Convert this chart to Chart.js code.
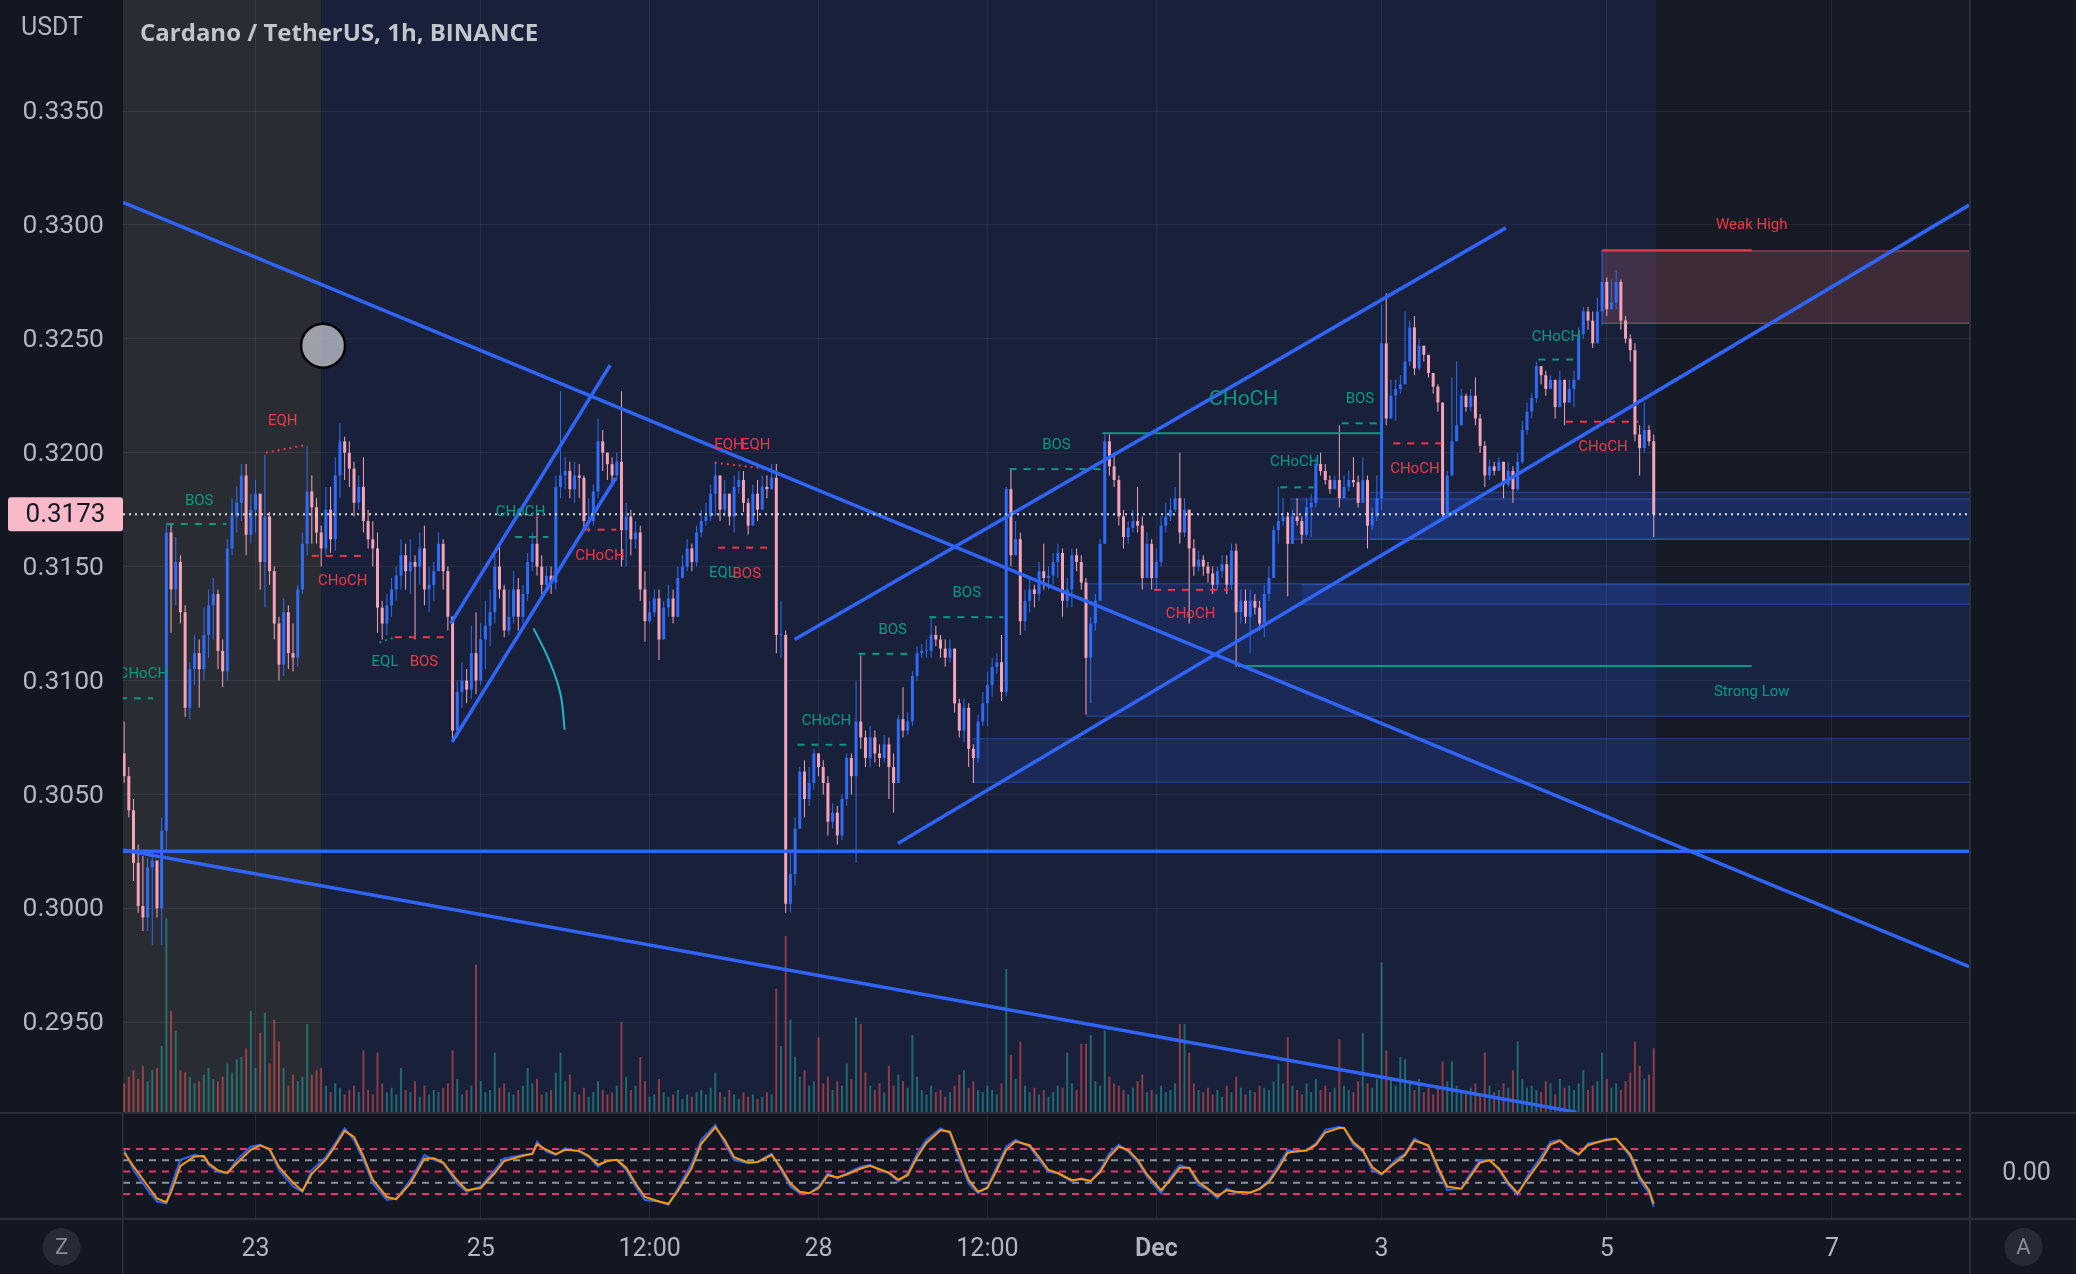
<!DOCTYPE html>
<html>
<head>
<meta charset="utf-8">
<title>Cardano / TetherUS, 1h, BINANCE</title>
<script src="https://cdn.jsdelivr.net/npm/chart.js@4.4.1/dist/chart.umd.min.js"></script>
<style>
html,body{margin:0;padding:0;background:#131722;overflow:hidden;}
#wrap{width:2076px;height:1274px;}
canvas{display:block;}
</style>
</head>
<body>
<div id="wrap"><canvas id="chart" width="2076" height="1274"></canvas></div>
<script>
// ================= DATA =================
// time unit: hours after 21 Nov 00:00; first hourly candle = 21 Nov 20:00
const FIRST_HOUR = 20;
const openP = [
.3068,.3058,.3043,.3020,.3001,.2996,.3018,.3021,.3000,.3034,
.3165,.3140,.3152,.3130,.3088,.3105,.3112,.3105,.3120,.3133,
.3138,.3113,.3104,.3158,.3172,.3178,.3190,.3164,.3175,.3182,
.3152,.3172,.3148,.3125,.3107,.3130,.3112,.3110,.3140,.3160,
.3183,.3176,.3165,.3158,.3175,.3162,.3190,.3205,.3200,.3193,
.3178,.3185,.3170,.3162,.3158,.3132,.3125,.3133,.3140,.3146,
.3155,.3148,.3152,.3150,.3158,.3140,.3142,.3148,.3160,.3148,
.3128,.3078,.3095,.3100,.3096,.3112,.3100,.3118,.3124,.3130,
.3150,.3140,.3122,.3128,.3140,.3128,.3138,.3152,.3160,.3150,
.3142,.3146,.3143,.3185,.3190,.3192,.3184,.3190,.3189,.3170,
.3170,.3183,.3205,.3200,.3195,.3190,.3196,.3166,.3172,.3162,
.3165,.3140,.3126,.3130,.3136,.3118,.3132,.3136,.3128,.3145,
.3150,.3158,.3152,.3165,.3170,.3172,.3182,.3190,.3175,.3182,
.3172,.3185,.3188,.3178,.3168,.3182,.3175,.3185,.3184,.3189,
.3120,.3120,.3002,.3015,.3035,.3060,.3048,.3055,.3068,.3062,
.3055,.3038,.3042,.3032,.3048,.3066,.3058,.3082,.3075,.3066,
.3075,.3068,.3066,.3072,.3062,.3055,.3083,.3078,.3082,.3102,
.3112,.3113,.3113,.3120,.3118,.3114,.3110,.3114,.3090,.3078,
.3088,.3070,.3066,.3082,.3090,.3098,.3106,.3108,.3095,.3184,
.3155,.3162,.3126,.3135,.3140,.3138,.3148,.3145,.3146,.3152,
.3156,.3135,.3140,.3155,.3152,.3143,.3110,.3125,.3135,.3160,
.3205,.3194,.3188,.3172,.3163,.3167,.3170,.3168,.3145,.3160,
.3145,.3152,.3168,.3172,.3175,.3180,.3165,.3175,.3158,.3150,
.3153,.3150,.3147,.3142,.3148,.3151,.3142,.3157,.3130,.3135,
.3128,.3135,.3132,.3125,.3138,.3145,.3166,.3170,.3172,.3160,
.3172,.3170,.3164,.3176,.3178,.3195,.3192,.3188,.3184,.3188,
.3180,.3185,.3188,.3187,.3178,.3188,.3168,.3172,.3180,.3248,
.3215,.3225,.3228,.3230,.3240,.3255,.3237,.3247,.3243,.3235,
.3229,.3222,.3173,.3190,.3205,.3212,.3225,.3220,.3225,.3215,
.3203,.3190,.3194,.3192,.3196,.3186,.3192,.3184,.3196,.3210,
.3218,.3224,.3238,.3234,.3228,.3232,.3220,.3232,.3222,.3228,
.3232,.3252,.3262,.3258,.3248,.3262,.3275,.3263,.3266,.3275,
.3258,.3250,.3245,.3208,.3202,.3210,.3205];
const highP = [
.3082,.3062,.3048,.3028,.3023,.3022,.3025,.3020,.3040,.3169,
.3169,.3163,.3155,.3133,.3108,.3120,.3118,.3132,.3140,.3145,
.3140,.3118,.3162,.3180,.3185,.3195,.3195,.3182,.3188,.3182,
.3199,.3174,.3150,.3128,.3136,.3133,.3125,.3142,.3165,.3203,
.3190,.3180,.3168,.3185,.3185,.3198,.3213,.3207,.3205,.3196,
.3190,.3198,.3175,.3170,.3165,.3135,.3138,.3145,.3150,.3162,
.3160,.3162,.3155,.3165,.3168,.3150,.3152,.3165,.3162,.3150,
.3128,.3100,.3108,.3105,.3124,.3130,.3125,.3135,.3140,.3155,
.3160,.3142,.3140,.3148,.3145,.3142,.3156,.3165,.3172,.3155,
.3150,.3150,.3190,.3227,.3198,.3196,.3196,.3195,.3190,.3180,
.3186,.3215,.3210,.3200,.3198,.3200,.3227,.3178,.3175,.3170,
.3168,.3148,.3135,.3140,.3140,.3135,.3142,.3140,.3150,.3155,
.3162,.3160,.3168,.3175,.3178,.3186,.3196,.3190,.3188,.3182,
.3190,.3192,.3192,.3180,.3186,.3188,.3190,.3190,.3195,.3195,
.3135,.3122,.3025,.3040,.3062,.3065,.3062,.3070,.3068,.3065,
.3058,.3046,.3045,.3050,.3068,.3068,.3100,.3111,.3078,.3080,
.3078,.3072,.3076,.3075,.3068,.3085,.3097,.3086,.3104,.3115,
.3116,.3118,.3128,.3124,.3120,.3118,.3118,.3114,.3092,.3092,
.3090,.3072,.3085,.3095,.3104,.3110,.3112,.3120,.3185,.3193,
.3170,.3165,.3140,.3145,.3142,.3152,.3160,.3150,.3156,.3160,
.3158,.3145,.3158,.3158,.3155,.3145,.3128,.3138,.3162,.3208,
.3208,.3200,.3190,.3175,.3170,.3175,.3185,.3172,.3165,.3162,
.3158,.3172,.3178,.3180,.3185,.3200,.3180,.3175,.3162,.3157,
.3155,.3152,.3150,.3150,.3155,.3155,.3160,.3160,.3140,.3140,
.3140,.3138,.3135,.3142,.3150,.3168,.3185,.3180,.3174,.3175,
.3180,.3172,.3180,.3182,.3198,.3200,.3195,.3190,.3190,.3212,
.3190,.3192,.3198,.3190,.3198,.3190,.3176,.3190,.3265,.3270,
.3232,.3232,.3234,.3262,.3258,.3260,.3250,.3246,.3242,.3235,
.3230,.3222,.3192,.3233,.3240,.3228,.3226,.3228,.3233,.3217,
.3205,.3197,.3196,.3198,.3196,.3196,.3194,.3200,.3214,.3222,
.3226,.3240,.3238,.3236,.3234,.3232,.3236,.3232,.3232,.3236,
.3255,.3264,.3264,.3262,.3268,.3289,.3277,.3276,.3280,.3276,
.3260,.3252,.3248,.3212,.3222,.3212,.3208];
const lowP = [
.3055,.3040,.3012,.2998,.2990,.2990,.2984,.2996,.2984,.3025,
.3121,.3133,.3125,.3084,.3083,.3098,.3088,.3100,.3110,.3118,
.3105,.3097,.3100,.3155,.3165,.3170,.3155,.3160,.3165,.3140,
.3132,.3142,.3118,.3100,.3102,.3105,.3104,.3106,.3138,.3155,
.3160,.3160,.3150,.3155,.3156,.3157,.3180,.3188,.3185,.3172,
.3175,.3165,.3158,.3150,.3121,.3118,.3120,.3128,.3135,.3140,
.3140,.3138,.3118,.3142,.3133,.3130,.3135,.3148,.3140,.3122,
.3074,.3075,.3088,.3090,.3092,.3094,.3098,.3105,.3115,.3125,
.3136,.3119,.3120,.3125,.3122,.3125,.3135,.3148,.3146,.3138,
.3140,.3138,.3140,.3180,.3184,.3180,.3178,.3180,.3165,.3165,
.3168,.3180,.3192,.3188,.3185,.3188,.3150,.3150,.3155,.3158,
.3135,.3117,.3125,.3128,.3109,.3120,.3128,.3125,.3128,.3145,
.3148,.3148,.3150,.3163,.3168,.3170,.3172,.3170,.3172,.3168,
.3165,.3182,.3174,.3164,.3168,.3170,.3180,.3180,.3184,.3112,
.3110,.2998,.2998,.3010,.3035,.3040,.3045,.3052,.3058,.3050,
.3032,.3035,.3028,.3030,.3045,.3050,.3020,.3070,.3062,.3062,
.3064,.3062,.3064,.3048,.3042,.3055,.3075,.3076,.3080,.3100,
.3110,.3110,.3110,.3115,.3110,.3106,.3108,.3086,.3075,.3073,
.3062,.3055,.3064,.3080,.3080,.3093,.3103,.3091,.3093,.3150,
.3155,.3120,.3122,.3130,.3132,.3135,.3140,.3140,.3142,.3145,
.3128,.3132,.3132,.3148,.3140,.3085,.3090,.3122,.3135,.3160,
.3190,.3185,.3168,.3158,.3160,.3165,.3165,.3140,.3145,.3140,
.3140,.3150,.3165,.3170,.3174,.3160,.3163,.3125,.3146,.3148,
.3146,.3143,.3138,.3140,.3145,.3138,.3140,.3106,.3125,.3125,
.3112,.3129,.3122,.3119,.3135,.3145,.3160,.3168,.3137,.3160,
.3168,.3160,.3163,.3163,.3176,.3190,.3186,.3182,.3184,.3176,
.3180,.3183,.3185,.3176,.3178,.3158,.3166,.3170,.3175,.3212,
.3215,.3214,.3226,.3234,.3238,.3234,.3236,.3240,.3233,.3226,
.3218,.3170,.3172,.3190,.3205,.3212,.3218,.3218,.3212,.3200,
.3185,.3188,.3190,.3192,.3180,.3185,.3178,.3183,.3195,.3208,
.3215,.3222,.3230,.3225,.3228,.3215,.3220,.3212,.3222,.3220,
.3232,.3250,.3254,.3246,.3248,.3256,.3260,.3263,.3263,.3254,
.3248,.3240,.3205,.3190,.3200,.3203,.3163];
const closeP = [
.3058,.3043,.3020,.3001,.2996,.3018,.3021,.3000,.3034,.3165,
.3140,.3152,.3130,.3088,.3105,.3112,.3105,.3120,.3133,.3138,
.3113,.3104,.3158,.3172,.3178,.3190,.3164,.3175,.3182,.3152,
.3172,.3148,.3125,.3107,.3130,.3112,.3110,.3140,.3160,.3183,
.3176,.3165,.3158,.3175,.3162,.3190,.3205,.3200,.3193,.3178,
.3185,.3170,.3162,.3158,.3132,.3125,.3133,.3140,.3146,.3155,
.3148,.3152,.3150,.3158,.3140,.3142,.3148,.3160,.3148,.3128,
.3078,.3095,.3100,.3096,.3112,.3100,.3118,.3124,.3130,.3150,
.3140,.3122,.3128,.3140,.3128,.3138,.3152,.3160,.3150,.3142,
.3146,.3143,.3185,.3190,.3192,.3184,.3190,.3189,.3170,.3170,
.3183,.3205,.3200,.3195,.3190,.3196,.3166,.3172,.3162,.3165,
.3140,.3126,.3130,.3136,.3118,.3132,.3136,.3128,.3145,.3150,
.3158,.3152,.3165,.3170,.3172,.3182,.3190,.3175,.3182,.3172,
.3185,.3188,.3178,.3168,.3182,.3175,.3185,.3184,.3189,.3120,
.3120,.3002,.3015,.3035,.3060,.3048,.3055,.3068,.3062,.3055,
.3038,.3042,.3032,.3048,.3066,.3058,.3082,.3075,.3066,.3075,
.3068,.3066,.3072,.3062,.3055,.3083,.3078,.3082,.3102,.3112,
.3113,.3113,.3120,.3118,.3114,.3110,.3114,.3090,.3078,.3088,
.3070,.3066,.3082,.3090,.3098,.3106,.3108,.3095,.3184,.3155,
.3162,.3126,.3135,.3140,.3138,.3148,.3145,.3146,.3152,.3156,
.3135,.3140,.3155,.3152,.3143,.3110,.3125,.3135,.3160,.3205,
.3194,.3188,.3172,.3163,.3167,.3170,.3168,.3145,.3160,.3145,
.3152,.3168,.3172,.3175,.3180,.3165,.3175,.3158,.3150,.3153,
.3150,.3147,.3142,.3148,.3151,.3142,.3157,.3130,.3135,.3128,
.3135,.3132,.3125,.3138,.3145,.3166,.3170,.3172,.3160,.3172,
.3170,.3164,.3176,.3178,.3195,.3192,.3188,.3184,.3188,.3180,
.3185,.3188,.3187,.3178,.3188,.3168,.3172,.3180,.3248,.3215,
.3225,.3228,.3230,.3240,.3255,.3237,.3247,.3243,.3235,.3229,
.3222,.3173,.3190,.3205,.3212,.3225,.3220,.3225,.3215,.3203,
.3190,.3194,.3192,.3196,.3186,.3192,.3184,.3196,.3210,.3218,
.3224,.3238,.3234,.3228,.3232,.3220,.3232,.3222,.3228,.3232,
.3252,.3262,.3258,.3248,.3262,.3275,.3263,.3266,.3275,.3258,
.3250,.3245,.3208,.3202,.3210,.3205,.3173];
// volume, millions ADA
const volumeM = [
1.3,1.6,1.9,1.5,2.1,1.4,1.9,2.0,3.0,8.8,
4.6,3.7,1.9,1.8,1.6,1.3,1.4,1.7,2.0,1.5,
1.4,1.6,2.2,1.8,2.4,2.5,2.9,4.6,2.0,3.6,
4.5,2.2,4.2,3.2,2.0,1.2,1.7,1.4,1.6,4.0,
1.7,1.9,2.0,1.2,0.9,1.3,1.1,0.8,1.0,1.2,
0.9,2.8,1.0,0.8,2.7,1.3,0.9,1.1,0.8,2.0,
1.0,0.9,1.4,0.7,1.2,0.8,1.0,0.9,1.1,1.3,
2.8,1.5,0.8,1.0,1.2,6.7,1.4,0.9,1.0,2.7,
1.1,1.3,0.9,0.8,1.0,1.2,2.0,1.3,1.5,0.8,
0.9,1.0,1.8,2.7,1.4,1.7,0.9,0.8,1.1,0.7,
0.9,1.4,1.0,0.8,0.9,1.2,4.1,1.6,1.0,1.2,
2.5,1.4,0.7,0.8,1.5,0.9,0.7,0.8,1.0,0.6,
0.8,0.7,0.9,1.0,0.8,1.1,1.8,0.9,0.7,1.0,
0.8,0.6,0.9,0.7,0.8,0.6,0.7,0.9,0.8,5.6,
3.0,8.0,4.2,2.5,1.6,1.9,1.2,1.4,3.4,1.3,
1.6,1.0,1.4,1.2,2.2,1.5,4.3,4.0,1.8,1.2,
1.0,1.3,0.9,2.1,1.2,1.7,1.4,1.1,3.5,1.6,
1.0,0.8,1.2,0.9,1.0,0.7,0.9,1.2,1.7,1.9,
1.1,1.4,1.0,0.9,1.2,1.0,0.8,1.3,6.5,2.6,
1.5,3.2,1.2,0.9,1.1,0.8,1.0,0.7,0.9,1.2,
1.1,2.7,1.3,1.0,3.1,3.1,3.5,1.4,1.2,3.7,
1.6,1.3,1.2,1.0,0.8,1.1,1.4,1.7,0.9,1.0,
0.8,1.2,0.9,1.0,1.3,4.0,4.0,2.7,1.3,1.0,
0.9,1.1,0.8,1.0,0.7,1.2,0.9,1.6,1.1,0.8,
1.0,0.9,1.2,1.1,1.0,1.4,2.2,1.3,3.4,1.2,
1.0,0.8,1.3,0.9,1.5,1.0,1.2,0.9,1.1,3.3,
1.2,1.0,0.9,1.4,3.6,1.3,1.1,1.5,6.8,2.8,
1.6,1.2,2.5,2.4,1.3,1.0,1.5,0.9,1.1,0.8,
1.2,2.3,1.4,2.3,1.2,1.0,0.9,1.1,1.3,0.8,
2.7,1.2,0.9,1.0,1.3,1.1,1.9,3.2,1.5,1.1,
1.2,1.0,0.9,1.4,1.3,0.8,1.5,1.1,1.2,1.0,
1.3,1.9,1.0,1.2,1.4,2.7,1.5,1.1,1.3,1.0,
1.4,1.8,3.2,2.1,1.5,1.7,2.9];

// oscillator pane
const oscHours = [20,22,25,27,29,30,32,35,37,38,40,42,44,47,49,51,53,56,58,60,63,65,67,69,71,73,76,78,81,84,86,88,91,93,96,99,101,105,107,108,110,112,114,117,119,121,123,125,127,129,131,134,136,138,141,143,146,148,150,153,155,158,160,162,164,166,168,170,172,174,177,179,181,183,185,187,189,191,194,196,198,200,202,204,206,208,210,213,215,217,219,222,224,226,228,230,232,234,236,238,241,243,245,247,249,251,253,255,257,260,262,264,266,268,270,272,274,276,279,280,282,284,286,288,291,293,295,298,300,302,305,307,309,311,313,315,317,319,322,324,326,328,330,332,334,336,338,341,343,345,346];
const oscFast = [57,4,-49,-80,-85,-40,31,44,39,17,-1,-5,31,66,71,57,4,-40,-54,4,39,75,115,84,31,-32,-76,-72,-23,44,31,22,-32,-54,-40,4,35,44,48,79,53,44,62,53,39,13,31,31,4,-40,-76,-80,-89,-45,22,84,124,75,31,22,26,48,4,-40,-58,-58,-40,-5,-18,-5,13,17,4,-5,-27,-5,48,84,115,102,31,-32,-58,-40,13,66,84,66,31,-1,-5,-27,-18,-27,4,48,71,53,26,-14,-58,-14,17,8,-36,-49,-71,-45,-58,-58,-45,-23,17,57,53,57,75,111,119,115,71,53,4,-9,31,48,88,66,4,-49,-45,-5,31,31,4,-36,-63,-14,39,79,84,57,44,75,79,86,88,39,-23,-58,-94];
const oscSlow = [50,14,-38,-72,-82,-55,15,40,41,22,3,-4,22,58,70,60,12,-30,-52,-6,32,68,108,92,40,-22,-68,-74,-32,34,35,24,-24,-50,-44,-4,28,42,47,72,58,46,58,55,42,18,28,31,10,-32,-68,-80,-86,-52,10,74,118,84,38,24,25,44,10,-32,-54,-58,-44,-10,-16,-8,8,15,6,-3,-22,-10,38,76,110,106,42,-22,-54,-44,4,58,80,70,38,4,-4,-23,-20,-25,-2,40,66,57,31,-8,-50,-22,10,10,-28,-46,-66,-50,-54,-56,-47,-28,8,50,54,56,71,104,116,116,78,57,12,-6,24,44,82,70,12,-40,-46,-12,24,30,8,-30,-58,-22,30,72,82,62,46,70,78,84,87,46,-14,-50,-86];
const oscLevelsPink = [60, 0, -60];
const oscLevelsGray = [30, -30];

// axes
const priceTicks = [0.2950,0.3000,0.3050,0.3100,0.3150,0.3200,0.3250,0.3300,0.3350];
const timeTickHours = [48,96,132,168,204,240,288,336,384];
const timeTickLabels = ['23','25','12:00','28','12:00','Dec','3','5','7'];
const VIEW_START = 19.76, VIEW_END = 413.2;         // visible hours
const PRICE_MIN = 0.286405, PRICE_MAX = 0.339873;   // price axis range
const VOL_MIN = -4.818, VOL_MAX = 50.545;
const OSC_MIN = -124, OSC_MAX = 3124;
const SHADE_SPLIT_HOUR = 62;                        // grey session -> blue session

// drawings: [t0, p0, t1, p1]
const trendLines = [
  [19.76,0.33099,413.2,0.29744],
  [19.76,0.30250,413.2,0.30250],
  [19.76,0.30256,329.5,0.29105],
  [162.9,0.31180,314.5,0.32987],
  [184.9,0.30285,413.2,0.33087],
  [89.6,0.31250,123.6,0.32385],
  [89.9,0.30730,124.8,0.31889]
];
const arcHours = [107.25,110.55,112.96,113.9];
const arcPrices = [0.31229,0.31090,0.30944,0.30783];
// structure levels: [t0, t1, price]
const bullDashed = [[19.1,26.2,0.30922],[29.1,41.8,0.31687],[103.3,110.4,0.3163],[163.5,175.4,0.30718],[176.5,188.2,0.31117],[191.6,207.4,0.31278],[208.7,228.5,0.31928],[266.4,273.5,0.31848],[279.5,287.3,0.32129],[321.4,329.6,0.32409]];
const bearDashed = [[60,72,0.31547],[77.7,89.4,0.31190],[117.9,124.9,0.31662],[146.6,158.4,0.31583],[239.5,255.3,0.31398],[290.5,300.8,0.32041],[327.3,342.7,0.32136]];
const eqhDotted = [[50.2,0.3200,58.9,0.32034],[145.9,0.31956,157.6,0.31928]];
const eqlDotted = [[74.4,0.31167,77.7,0.31190]];
const bullSolid = [[228.5,288,0.32085],[257.4,366.9,0.31064]];
const bearSolid = [[335,366.9,0.32889]];
// labels: [text, t, price]
const bullLabels = [['CHoCH',24.1,0.31026],['BOS',36,0.31787],['EQL',75.6,0.31078],['CHoCH',104.5,0.31738],['EQL',147.5,0.31473],['CHoCH',169.7,0.30823],['BOS',183.8,0.31221],['BOS',199.6,0.31384],['BOS',218.7,0.32034],['CHoCH',269.5,0.31958],['BOS',283.4,0.32235],['CHoCH',325.3,0.32506],['Strong Low',366.9,0.3095]];
const bullMajorLabels = [['CHoCH',258.6,0.32233]];
const bearLabels = [['EQH',53.8,0.32139],['CHoCH',66.6,0.31436],['BOS',83.9,0.31078],['CHoCH',121.4,0.31544],['EQH',148.9,0.32034],['EQH',154.6,0.32034],['BOS',152.7,0.31465],['CHoCH',247.3,0.31289],['CHoCH',295.1,0.31928],['CHoCH',335.2,0.32026],['Weak High',366.9,0.3300]];
// zones: [startHour, topPrice, bottomPrice]
const demandZones = [[225,0.31428,0.3084],[271,0.31424,0.31331],[200.7,0.30748,0.30550],[285.5,0.31829,0.31617],[268.5,0.31800,0.31617]];
const supplyZones = [[335,0.32889,0.32565]];
const markerPoint = [62.4, 0.3247];

// ================= STYLE =================
const COL = {
  bg:'#131722', gray:'#2a2c34', navy:'#18203a', dark:'#161a25', sep:'#2a2e39',
  up:'#2f6bf6', down:'#f5a3b7', volUp:'rgba(38,166,154,0.55)', volDown:'rgba(239,83,80,0.55)',
  trend:'#2f64f7', bull:'#089981', bear:'#f23645', grid:'rgba(240,243,250,0.07)', text:'#b2b5be',
  pinkLvl:'#e8336d', grayLvl:'#8f929b', fast:'#2962ff', slow:'#ff9800'
};
const FONT = 'Roboto';
const OSC_PANE_PX = 106;
const mainClip = {left:0, top:0, right:0, bottom:-OSC_PANE_PX};

const hours = closeP.map((_, i) => FIRST_HOUR + i);
const isUp = closeP.map((c, i) => c >= openP[i]);
const lastClose = closeP[closeP.length - 1];
const lastHour = hours[hours.length - 1];

function seg(t0,p0,t1,p1){ return [{x:t0,y:p0},{x:t1,y:p1}]; }
function lineDs(data, color, width, dash, extra){
  return Object.assign({type:'line', data, borderColor:color, borderWidth:width, borderDash:dash||[],
    pointRadius:0, pointHoverRadius:0, fill:false, tension:0, yAxisID:'y', clip:mainClip, order:2}, extra||{});
}

const datasets = [];
datasets.push({type:'bar', data: hours.map((t,i)=>({x:t, y:volumeM[i]})), yAxisID:'yv',
  backgroundColor: isUp.map(u => u ? COL.volUp : COL.volDown), barThickness:2, grouped:false, inflateAmount:0, order:20});
datasets.push({type:'bar', data: hours.map((t,i)=>({x:t, y:[lowP[i], highP[i]]})), yAxisID:'y',
  backgroundColor: isUp.map(u => u ? COL.up : COL.down), barThickness:1, grouped:false, inflateAmount:0, order:11});
datasets.push({type:'bar', data: hours.map((t,i)=>({x:t, y:[openP[i], closeP[i]]})), yAxisID:'y',
  backgroundColor: isUp.map(u => u ? COL.up : COL.down), barThickness:3, minBarLength:1, grouped:false, inflateAmount:0, order:10});
bullDashed.forEach(([a,b,p]) => datasets.push(lineDs(seg(a,p,b,p), COL.bull, 2, [7,7], {order:3})));
bearDashed.forEach(([a,b,p]) => datasets.push(lineDs(seg(a,p,b,p), COL.bear, 2, [7,7], {order:3})));
eqhDotted.forEach(([a,p,b,q]) => datasets.push(lineDs(seg(a,p,b,q), COL.bear, 2, [2,4], {order:3})));
eqlDotted.forEach(([a,p,b,q]) => datasets.push(lineDs(seg(a,p,b,q), COL.bull, 2, [2,4], {order:3})));
bullSolid.forEach(([a,b,p]) => datasets.push(lineDs(seg(a,p,b,p), COL.bull, 2, [], {order:3})));
bearSolid.forEach(([a,b,p]) => datasets.push(lineDs(seg(a,p,b,p), COL.bear, 2, [], {order:3})));
trendLines.forEach(([a,p,b,q]) => datasets.push(lineDs(seg(a,p,b,q), COL.trend, 3.5, [], {order:2})));
datasets.push(lineDs(arcHours.map((t,i)=>({x:t,y:arcPrices[i]})), '#1fb5c4', 2, [], {tension:0.4, order:2}));
datasets.push(lineDs(seg(VIEW_START,lastClose,VIEW_END,lastClose), 'rgba(255,255,255,0.85)', 2, [2,4], {order:0}));
oscLevelsPink.forEach(v => datasets.push(lineDs(seg(VIEW_START,v,411.5,v), COL.pinkLvl, 2, [7,6], {yAxisID:'yo', clip:0, order:8})));
oscLevelsGray.forEach(v => datasets.push(lineDs(seg(VIEW_START,v,411.5,v), COL.grayLvl, 2, [7,6], {yAxisID:'yo', clip:0, order:8})));
datasets.push(lineDs(oscHours.map((t,i)=>({x:t,y:oscFast[i]})), COL.fast, 2, [], {yAxisID:'yo', clip:0, order:7}));
datasets.push(lineDs(oscHours.map((t,i)=>({x:t,y:oscSlow[i]})), COL.slow, 2, [], {yAxisID:'yo', clip:0, order:6}));

// ================= PLUGIN (backgrounds, zones, labels) =================
const tvPlugin = {
  id:'tv',
  beforeDraw(chart){
    const {ctx, chartArea:a, scales:{x, yv}} = chart;
    const mb = yv.getPixelForValue(0);
    const xs = x.getPixelForValue(SHADE_SPLIT_HOUR), xe = x.getPixelForValue(lastHour + 0.5);
    ctx.save();
    ctx.fillStyle = COL.bg; ctx.fillRect(0,0,chart.width,chart.height);
    ctx.fillStyle = COL.gray; ctx.fillRect(a.left, a.top, xs-a.left, mb-a.top);
    ctx.fillStyle = COL.navy; ctx.fillRect(xs, a.top, xe-xs, mb-a.top);
    ctx.fillStyle = COL.dark; ctx.fillRect(xe, a.top, a.right-xe, mb-a.top);
    ctx.restore();
  },
  beforeDatasetsDraw(chart){
    const {ctx, chartArea:a, scales:{x, y, yv}} = chart;
    const mb = yv.getPixelForValue(0);
    ctx.save();
    ctx.beginPath(); ctx.rect(a.left, a.top, a.right-a.left, mb-a.top); ctx.clip();
    demandZones.forEach(([t0,pt,pb]) => {
      const x0 = x.getPixelForValue(t0), y0 = y.getPixelForValue(pt), y1 = y.getPixelForValue(pb);
      ctx.fillStyle = 'rgba(41,98,255,0.14)';
      ctx.fillRect(x0, y0, a.right-x0, y1-y0);
      ctx.fillStyle = 'rgba(70,120,255,0.28)';
      ctx.fillRect(x0, y0, a.right-x0, 1.5);
      ctx.fillRect(x0, y1-1.5, a.right-x0, 1.5);
    });
    supplyZones.forEach(([t0,pt,pb]) => {
      const x0 = x.getPixelForValue(t0), y0 = y.getPixelForValue(pt), y1 = y.getPixelForValue(pb);
      ctx.fillStyle = 'rgba(185,95,115,0.25)';
      ctx.fillRect(x0, y0, a.right-x0, y1-y0);
      ctx.fillStyle = 'rgba(215,105,125,0.4)';
      ctx.fillRect(x0, y0, a.right-x0, 1.5);
      ctx.fillRect(x0, y1-1.5, a.right-x0, 1.5);
    });
    ctx.restore();
  },
  afterDatasetsDraw(chart){
    const {ctx, chartArea:a, scales:{x, y, yv}} = chart;
    const mb = yv.getPixelForValue(0);
    ctx.save();
    ctx.beginPath(); ctx.rect(a.left, a.top, a.right-a.left, mb-a.top); ctx.clip();
    ctx.textAlign = 'center'; ctx.textBaseline = 'middle';
    const put = (list, color, size) => list.forEach(([txt,t,p]) => {
      ctx.font = size + 'px ' + FONT; ctx.fillStyle = color;
      ctx.fillText(txt, x.getPixelForValue(t), y.getPixelForValue(p));
    });
    put(bullLabels, COL.bull, 15);
    put(bearLabels, COL.bear, 15);
    put(bullMajorLabels, COL.bull, 21);
    // grey marker circle
    const cx = x.getPixelForValue(markerPoint[0]), cy = y.getPixelForValue(markerPoint[1]);
    ctx.beginPath(); ctx.arc(cx, cy, 22, 0, Math.PI*2);
    ctx.fillStyle = 'rgba(178,181,190,0.85)'; ctx.fill();
    ctx.lineWidth = 2.5; ctx.strokeStyle = '#000'; ctx.stroke();
    ctx.restore();
  },
  afterDraw(chart){
    const {ctx, chartArea:a, scales:{y, yv, yo}} = chart;
    const mb = yv.getPixelForValue(0);
    ctx.save();
    ctx.fillStyle = COL.sep;
    ctx.fillRect(0, mb, chart.width, 2);
    ctx.fillRect(0, a.bottom, chart.width, 2);
    ctx.fillRect(a.right, 0, 2, chart.height);
    ctx.fillRect(a.left-1, mb, 1.5, chart.height-mb);
    // last price tag
    const py = y.getPixelForValue(lastClose);
    ctx.fillStyle = '#f9b9c9';
    ctx.beginPath();
    if (ctx.roundRect) ctx.roundRect(8, py-17, a.left-8, 34, 3); else ctx.rect(8, py-17, a.left-8, 34);
    ctx.fill();
    ctx.fillStyle = '#131722'; ctx.font = '26px ' + FONT; ctx.textAlign = 'center'; ctx.textBaseline = 'middle';
    ctx.fillText(lastClose.toFixed(4), (8 + a.left)/2, py+1);
    // header
    ctx.fillStyle = COL.text; ctx.font = '25px ' + FONT; ctx.textAlign = 'center';
    ctx.fillText('USDT', 52, 29);
    ctx.textAlign = 'left'; ctx.font = '700 24px "Open Sans"'; ctx.fillStyle = '#c3c5cc';
    ctx.fillText('Cardano / TetherUS, 1h, BINANCE', 140, 34);
    // oscillator value
    ctx.textAlign = 'center'; ctx.font = '25px ' + FONT; ctx.fillStyle = COL.text;
    ctx.fillText('0.00', (a.right + chart.width)/2 + 4, yo.getPixelForValue(0) + 2);
    // corner buttons
    const btn = (cx, txt) => {
      ctx.beginPath(); ctx.arc(cx, (a.bottom + chart.height)/2 + 1, 19, 0, Math.PI*2);
      ctx.fillStyle = '#262a35'; ctx.fill();
      ctx.fillStyle = '#8a8d96'; ctx.font = '22px ' + FONT; ctx.textAlign = 'center';
      ctx.fillText(txt, cx, (a.bottom + chart.height)/2 + 2);
    };
    btn(a.left/2, 'Z');
    btn((a.right + chart.width)/2 + 1, 'A');
    ctx.restore();
  }
};

Chart.defaults.font.family = FONT;
new Chart(document.getElementById('chart'), {
  data: { datasets },
  options: {
    responsive:false, devicePixelRatio:1, animation:false,
    layout:{ padding:{left:0, right:107, top:0, bottom:0}, autoPadding:false },
    plugins:{ legend:{display:false}, tooltip:{enabled:false} },
    events: [],
    scales:{
      x:{ type:'linear', position:'bottom', min:VIEW_START, max:VIEW_END, offset:false, bounds:'data',
        afterBuildTicks: s => { s.ticks = timeTickHours.map(v => ({value:v})); },
        afterFit: s => { s.height = 56; s.paddingLeft = 0; s.paddingRight = 0; },
        grid:{ color:COL.grid, drawTicks:false, lineWidth:1, offset:false }, border:{display:false},
        ticks:{ padding:17, maxRotation:0, autoSkip:false, color:COL.text,
          callback:(v, i) => timeTickLabels[i],
          font: c => ({family:FONT, size:25, weight: (c.tick && c.tick.label === 'Dec') ? '600' : '400'}) } },
      y:{ type:'linear', position:'left', min:PRICE_MIN, max:PRICE_MAX, offset:false,
        afterBuildTicks: s => { s.ticks = priceTicks.map(v => ({value:v})); },
        afterFit: s => { s.width = 123; s.paddingTop = 0; s.paddingBottom = 0; },
        grid:{ color:COL.grid, drawTicks:false, lineWidth:1 }, border:{display:false},
        ticks:{ padding:19, color:COL.text, font:{family:FONT, size:26.5}, labelOffset:1.5, callback: v => v.toFixed(4) } },
      yv:{ type:'linear', display:false, position:'right', min:VOL_MIN, max:VOL_MAX, grid:{display:false} },
      yo:{ type:'linear', display:false, position:'right', min:OSC_MIN, max:OSC_MAX, grid:{display:false} }
    }
  },
  plugins:[tvPlugin]
});
</script>
</body>
</html>
